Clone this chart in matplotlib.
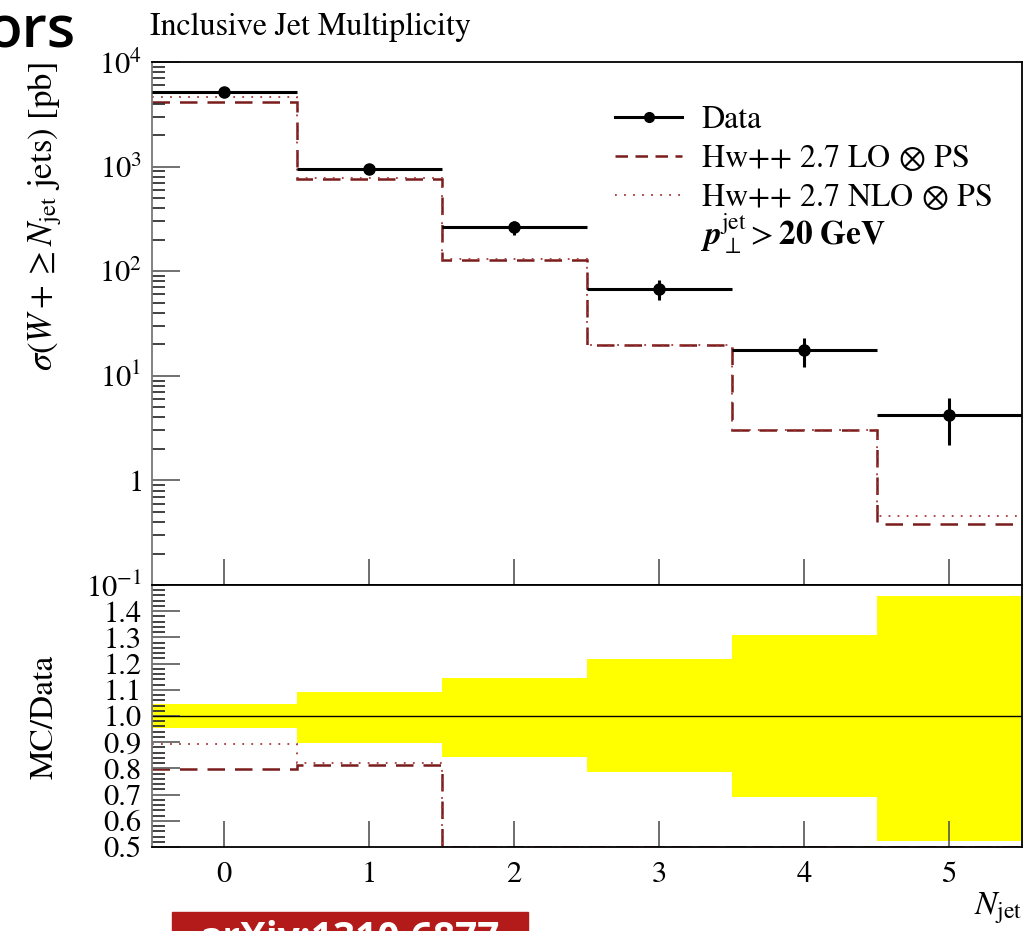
import numpy as np
import matplotlib
matplotlib.use('Agg')
import matplotlib.pyplot as plt
from matplotlib.lines import Line2D
from matplotlib.patches import Rectangle
from matplotlib.ticker import FixedLocator, FixedFormatter, MultipleLocator

plt.rcParams['font.family'] = ['STIXGeneral', 'DejaVu Serif']
plt.rcParams['mathtext.fontset'] = 'stix'

# Inclusive jet multiplicity, W + >= N jets
njet = [0, 1, 2, 3, 4, 5]
data = [5160, 940, 262, 67, 17.5, 4.2]
data_up = [235, 85, 38, 14.6, 5.4, 1.93]
data_dn = [235, 97, 41, 14.4, 5.4, 2.0]
hw_lo = [4110, 765, 128, 19.6, 3.0, 0.38]
hw_nlo = [4600, 770, 130, 19.8, 3.05, 0.46]

ytick_vals = [0.1, 1, 10, 100, 1000, 10000]
ytick_labels = ['$10^{-1}$', '$1$', '$10^{1}$', '$10^{2}$', '$10^{3}$', '$10^{4}$']
rtick_vals = [0.5, 0.6, 0.7, 0.8, 0.9, 1.0, 1.1, 1.2, 1.3, 1.4]

LO_COL = '#7b1c1c'
NLO_COL = '#a8383a'

x = np.array(njet, dtype=float)
edges = np.append(x - 0.5, x[-1] + 0.5)
d = np.array(data)
up = np.array(data_up)
dn = np.array(data_dn)

fig = plt.figure(figsize=(10.31, 9.31), dpi=100)
W, H = 1031, 931
ax = fig.add_axes([151.5 / W, 1 - 585 / H, 870 / W, 523 / H])
rax = fig.add_axes([151.5 / W, 1 - 847 / H, 870 / W, 262 / H])

# upper panel
ax.stairs(hw_lo, edges, baseline=None, color=LO_COL, lw=1.8, linestyle=(0, (7, 4)))
ax.stairs(hw_nlo, edges, baseline=None, color=NLO_COL, lw=1.3, linestyle=(0, (1, 4)))
ax.errorbar(x, d, xerr=0.5, yerr=[dn, up], fmt='o', color='black', ms=8,
            elinewidth=2.2, capsize=0, zorder=5)
ax.set_yscale('log')
ax.set_xlim(-0.5, 5.5)
ax.set_ylim(0.1, 1e4)
ax.yaxis.set_major_locator(FixedLocator(ytick_vals))
ax.yaxis.set_major_formatter(FixedFormatter(ytick_labels))
ax.set_xticks(njet)
ax.tick_params(axis='x', which='both', direction='in', length=19, width=1.2,
               color='#555555', labelbottom=False)
ax.tick_params(axis='y', which='major', direction='in', length=20, width=1.3,
               color='#666666', labelsize=22, pad=7)
ax.tick_params(axis='y', which='minor', direction='in', length=9, width=1.3,
               color='#333333')

# legend
handles = [
    Line2D([], [], color='black', lw=2.2, marker='o', ms=7),
    Line2D([], [], color=LO_COL, lw=1.8, linestyle=(0, (5, 3))),
    Line2D([], [], color=NLO_COL, lw=1.3, linestyle=(0, (1, 4))),
]
labels = ['Data', r'Hw++ 2.7 LO$\,\otimes\,$PS', r'Hw++ 2.7 NLO$\,\otimes\,$PS']
ax.legend(handles, labels, loc='upper left', bbox_to_anchor=(0.533, 0.917),
          frameon=False, fontsize=23, handlelength=2.1, handletextpad=0.6,
          labelspacing=0.28, borderpad=0, borderaxespad=0)
ax.text((700 - 151.5) / 870, 1 - (234 - 62) / 523,
        r'$\mathbfit{p}_{\perp}^{\mathrm{jet}} > \mathbf{20\ GeV}$',
        transform=ax.transAxes, fontsize=24, va='center', ha='left')

# ratio panel
ratio_lo = np.maximum(np.array(hw_lo) / d, 0.5)
ratio_nlo = np.maximum(np.array(hw_nlo) / d, 0.5)
rax.stairs(1 + up / d, edges, baseline=1 - dn / d, fill=True, color='#ffff00', lw=0)
rax.axhline(1.0, color='black', lw=1)
rax.stairs(ratio_lo, edges, baseline=None, color=LO_COL, lw=1.8, linestyle=(0, (7, 4)))
rax.stairs(ratio_nlo, edges, baseline=None, color=NLO_COL, lw=1.3, linestyle=(0, (1, 4)))
rax.set_xlim(-0.5, 5.5)
rax.set_ylim(0.5, 1.5)
rax.set_yticks(rtick_vals)
rax.set_yticklabels([f'{v:.1f}' for v in rtick_vals])
rax.yaxis.set_minor_locator(MultipleLocator(0.02))
rax.set_xticks(njet)
rax.tick_params(axis='x', which='both', direction='in', length=19, width=1.2,
                color='#555555', labelsize=22, pad=10)
rax.tick_params(axis='y', which='major', direction='in', length=20, width=1.3,
                color='#666666', labelsize=22, pad=7)
rax.tick_params(axis='y', which='minor', direction='in', length=9, width=1.3,
                color='#333333')

for a in (ax, rax):
    for s in a.spines.values():
        s.set_linewidth(1.3)
    a.spines['left'].set_color('#777777')

# titles and axis labels
fig.text(150 / W, 1 - 27 / H, 'Inclusive Jet Multiplicity', fontsize=23,
         ha='left', va='center')
fig.text(45 / W, 1 - 62 / H, r'$\sigma(W+\geq N_{\mathrm{jet}}$ jets) [pb]',
         fontsize=25, rotation=90, ha='center', va='top')
fig.text(45 / W, 1 - 717 / H, 'MC/Data', fontsize=24, rotation=90,
         ha='center', va='center')
fig.text(1022 / W, 1 - 908 / H, r'$N_{\mathrm{jet}}$', fontsize=24,
         ha='right', va='center')

# slide remnants around the figure
fig.text(75 / W, 1 - 48 / H, 'ors', fontsize=42, family='Open Sans',
         weight='semibold', ha='right', va='baseline')
fig.patches.append(Rectangle((172 / W, 0), (528 - 172) / W, 19 / H,
                             transform=fig.transFigure, color='#b31b1b'))
fig.text(350 / W, 1 - 920 / H, 'arXiv:1310.6877', fontsize=28, family='Open Sans',
         weight='bold', color='white', ha='center', va='top')

fig.savefig('out.png', dpi=100)
